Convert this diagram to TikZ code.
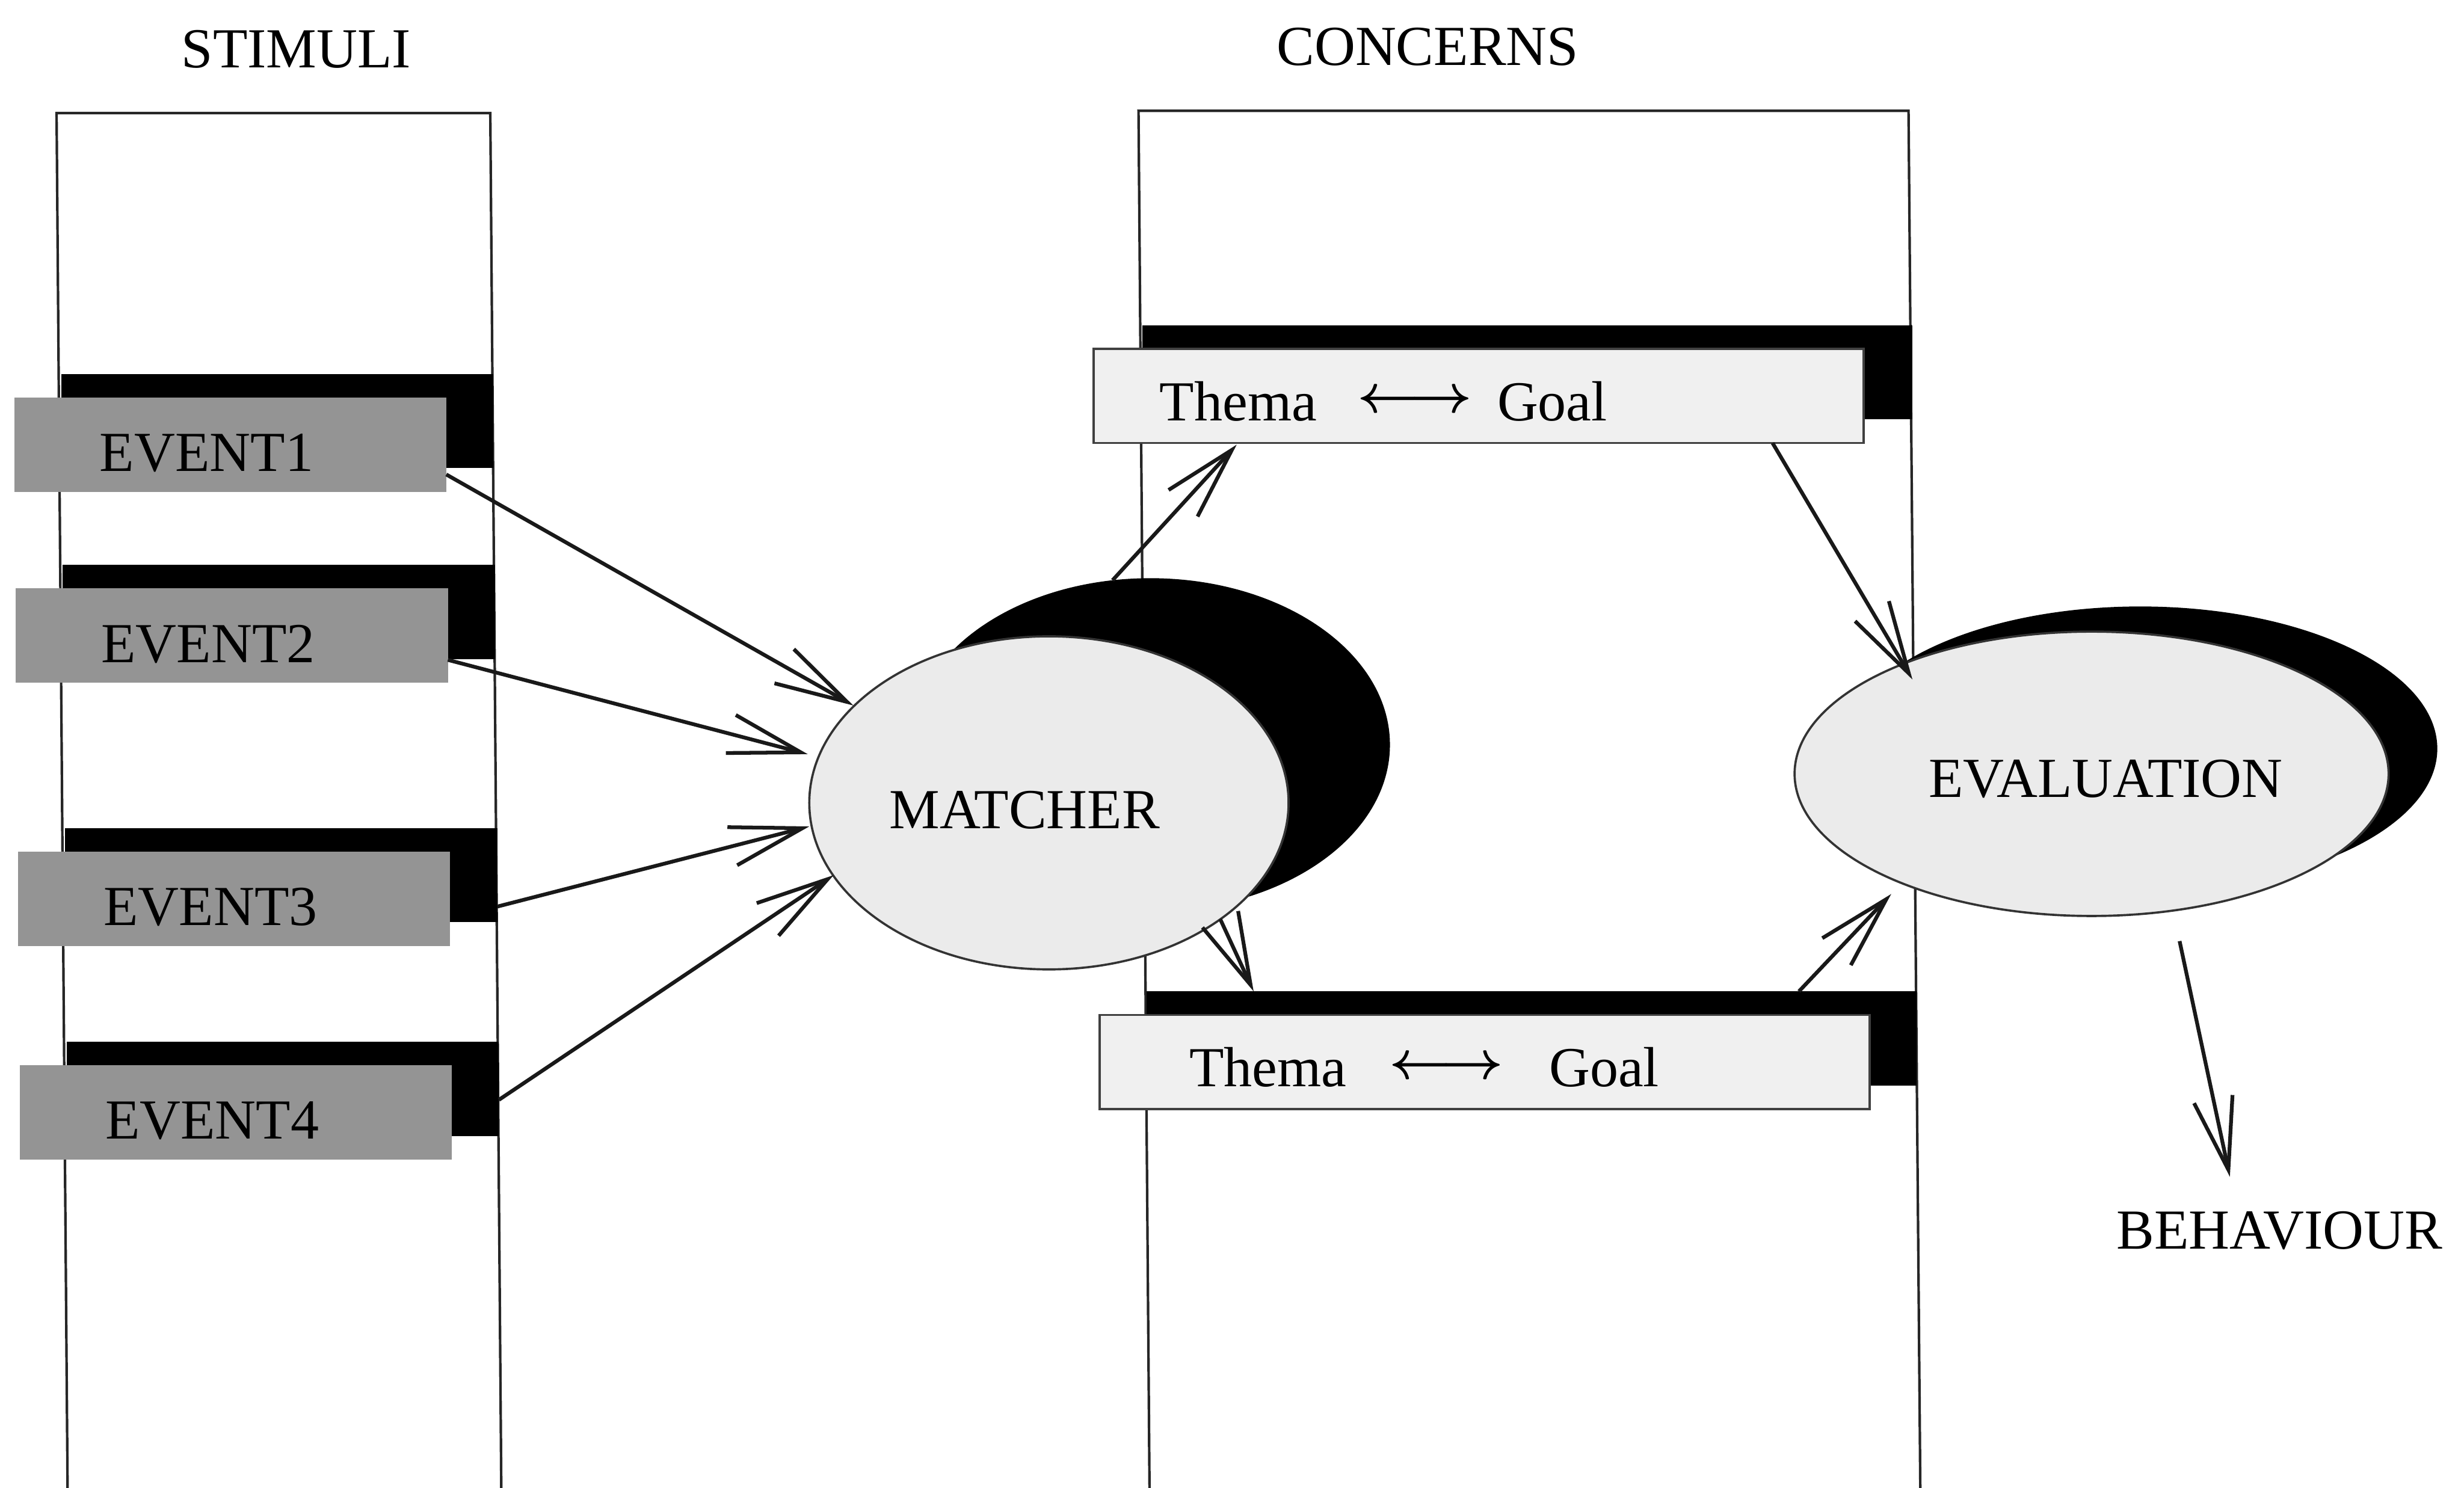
\documentclass[tikz,border=0pt]{standalone}
\usepackage{fontspec}
\setmainfont{Liberation Serif}
\usetikzlibrary{arrows.meta,calc,shapes.geometric}

\definecolor{eventgray}{gray}{0.58}
\definecolor{panelgray}{gray}{0.94}
\definecolor{ovalgray}{gray}{0.92}

\tikzset{
  lbl/.style={inner sep=0pt, outer sep=0pt, anchor=base, font=\fontsize{18}{22}\selectfont},
  column/.style={line width=0.8pt, draw=black!85},
  evbox/.style={rectangle, fill=eventgray, minimum width=137.5pt, minimum height=30pt, inner sep=0pt, outer sep=0pt},
  evshadow/.style={rectangle, fill=black, minimum width=137.5pt, minimum height=30pt, inner sep=0pt, outer sep=0pt},
  thbox/.style={rectangle, draw=black!75, line width=0.7pt, fill=panelgray, minimum width=245pt, minimum height=30pt, inner sep=0pt, outer sep=0pt},
  thshadow/.style={rectangle, fill=black, minimum width=245pt, minimum height=30pt, inner sep=0pt, outer sep=0pt},
  oval/.style={ellipse, draw=black!80, line width=0.7pt, fill=ovalgray, inner sep=0pt, outer sep=0pt},
  ovalshadow/.style={ellipse, fill=black, inner sep=0pt, outer sep=0pt},
  arr/.style={line width=1.2pt, draw=black!90, -{Straight Barb[length=23pt,width=12.5pt]}}
}

% the two-headed arrow inside the concern panels
\newcommand{\linkarrow}{\raisebox{2.5pt}{\boldmath$\longleftrightarrow$}}

\begin{document}
\begin{tikzpicture}[x=0.5pt,y=-0.5pt]
\useasboundingbox (0,0) rectangle (1568,947);
\clip (0,0) rectangle (1568,947);

% the two open columns
\draw[column] (43,947) -- (36,72) -- (312,72) -- (319,947);
\draw[column] (731.5,947) -- (724.5,70.5) -- (1214.5,70.5) -- (1222,947);

% column headings
\node[lbl] (stimuli) at (188.5,43) {STIMULI};
\node[lbl] (concerns) at (908.5,41.5) {CONCERNS};

% stimulus events with their drop shadows
\node[evshadow] (s1) at (176.5,268) {};
\node[evbox] (e1) at (146.5,283) {};
\node[lbl, anchor=base west] (t1) at ($(e1.west)+(54.5,17)$) {EVENT1};

\node[evshadow] (s2) at (177.5,389.5) {};
\node[evbox] (e2) at (147.5,404.5) {};
\node[lbl, anchor=base west] (t2) at ($(e2.west)+(54.5,17)$) {EVENT2};

\node[evshadow] (s3) at (179,557) {};
\node[evbox] (e3) at (149,572) {};
\node[lbl, anchor=base west] (t3) at ($(e3.west)+(54.5,17)$) {EVENT3};

\node[evshadow] (s4) at (180,693) {};
\node[evbox] (e4) at (150,708) {};
\node[lbl, anchor=base west] (t4) at ($(e4.west)+(54.5,17)$) {EVENT4};

% concern panels
\node[thshadow] (sth1) at (972,237) {};
\node[thbox] (th1) at (941,252) {};
\node[lbl, anchor=base west] (tg1) at (738,267.6)
  {Thema\hspace{13pt}\linkarrow\hspace{8pt}Goal};

\node[thshadow] (sth2) at (974.75,661) {};
\node[thbox] (th2) at (944.75,676) {};
\node[lbl, anchor=base west] (tg2) at (757,691.7)
  {Thema\hspace{13.5pt}\linkarrow\hspace{14.5pt}Goal};

% matcher and evaluation ovals
\node[ovalshadow, minimum width=152.5pt, minimum height=106pt] (msh) at (732,474) {};
\node[oval, minimum width=152.5pt, minimum height=106pt] (matcher) at (667.5,511) {};
\node[lbl] (mtext) at ($(matcher.center)+(-15.5,16.5)$) {MATCHER};

\node[ovalshadow, minimum width=189pt, minimum height=90.5pt] (esh) at (1362,476.5) {};
\node[oval, minimum width=189pt, minimum height=90.5pt] (eval) at (1331,492.5) {};
\node[lbl] (etext) at ($(eval.center)+(9,15)$) {EVALUATION};

\node[lbl] (behav) at (1450.5,795) {BEHAVIOUR};

% connectors
\draw[arr] ($(e1.east)+(0,19)$) -- ($(matcher.center)+(-124.5,-62)$);
\draw[arr] ($(e2.east)+(0,15.5)$) -- ($(matcher.center)+(-153.5,-31)$);
\draw[arr] ($(s3.east)+(0,20)$) -- ($(matcher.center)+(-152.5,15)$);
\draw[arr] ($(s4.east)+(0,7)$) -- ($(matcher.center)+(-137,46)$);

\draw[arr] ($(msh.center)+(-24,-104.7)$) -- ($(th1.south)+(-154,1)$);
\draw[arr] ($(matcher.center)+(109,74)$) -- ($(sth2.north)+(-177,0)$);

\draw[arr] ($(th1.south east)+(-58,0)$) -- ($(eval.center)+(-114,-60)$);
\draw[arr] ($(sth2.north)+(170,0)$) -- ($(eval.center)+(-127.5,76.5)$);

\draw[arr] ($(eval.center)+(56,106.5)$) -- ($(behav.base)+(-31.5,-46)$);
\end{tikzpicture}
\end{document}
